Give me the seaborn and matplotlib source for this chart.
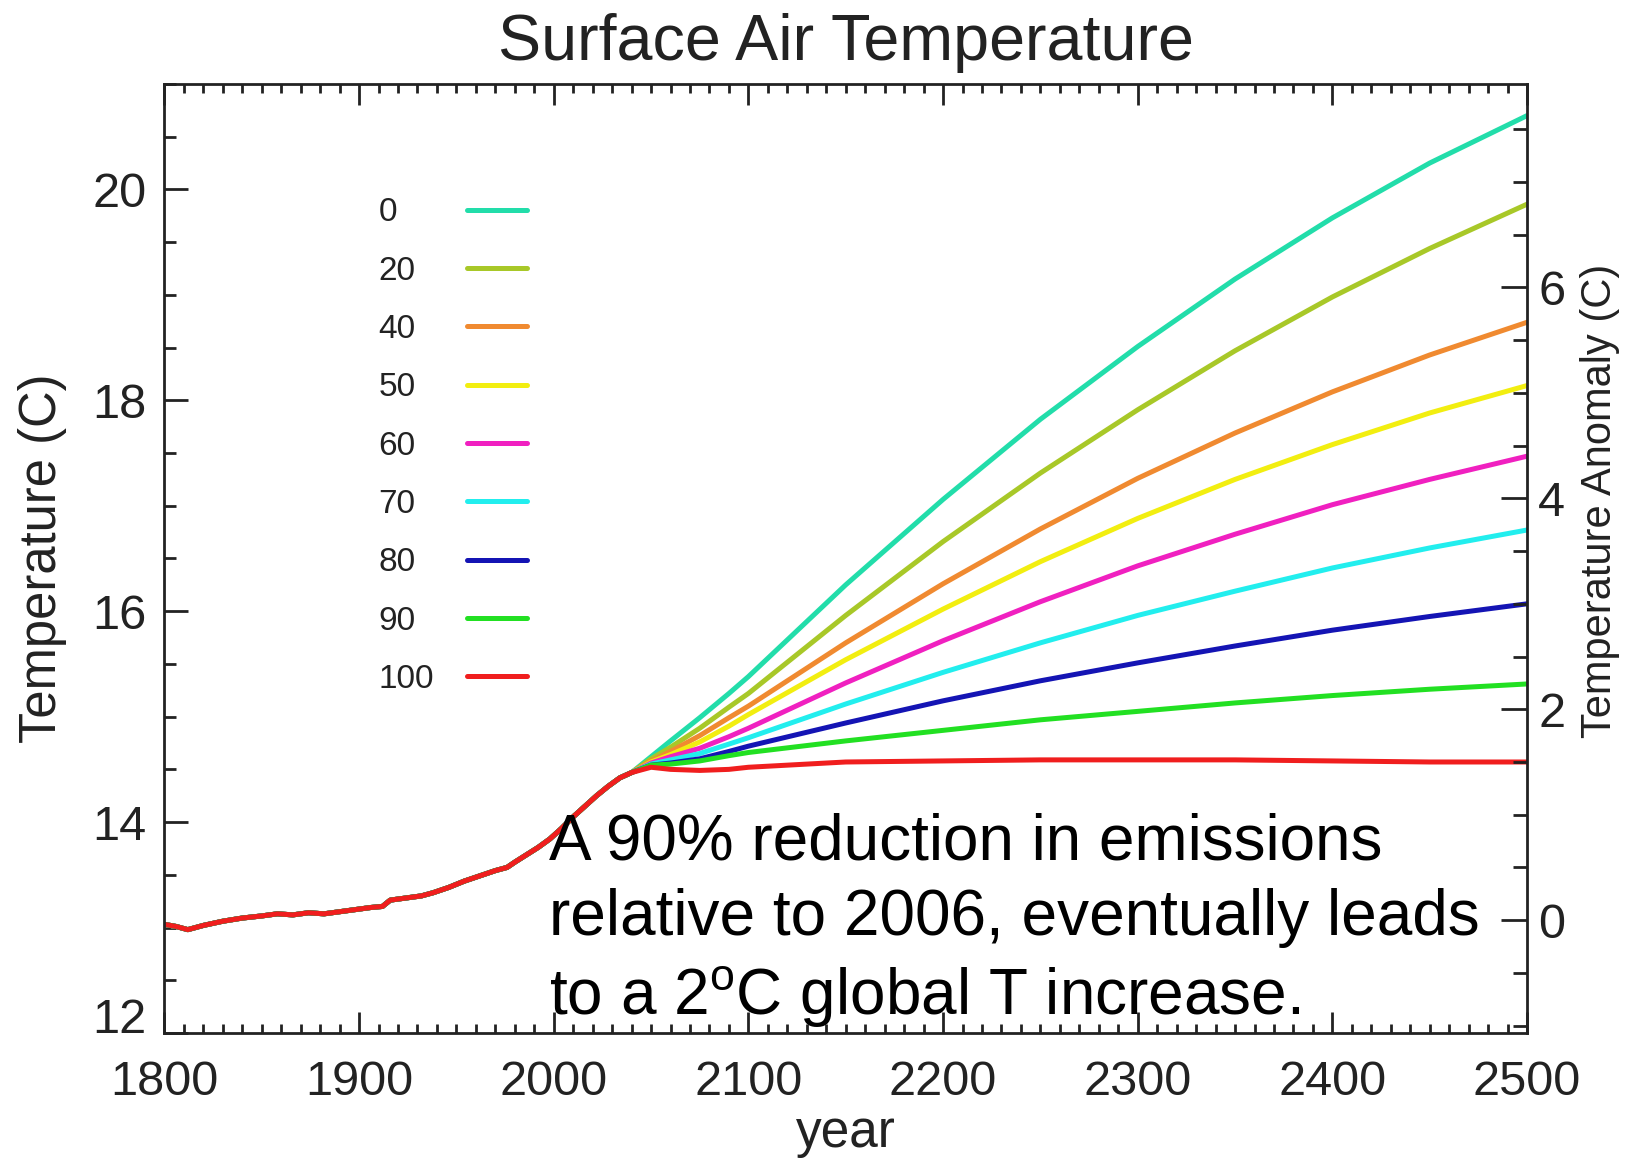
import matplotlib
matplotlib.use("Agg")
import matplotlib.pyplot as plt
from matplotlib.ticker import MultipleLocator, FixedLocator
import pandas as pd
import seaborn as sns

# Emission reduction scenarios (% relative to 2006) and their line colours
reductions = ["0", "20", "40", "50", "60", "70", "80", "90", "100"]
colors = ["#22DDAA", "#A8C828", "#F08A30", "#F2EE10", "#F020C0",
          "#22EEEE", "#1414B4", "#22E022", "#F01E1E"]

# Observed / historical global mean surface air temperature (C)
hist_years = [1800, 1806, 1812, 1820, 1830, 1840, 1850, 1858, 1866, 1874,
              1882, 1890, 1898, 1906, 1912, 1916, 1924, 1932, 1938, 1946,
              1954, 1962, 1970, 1976, 1980, 1986, 1992, 1998, 2004, 2010,
              2016, 2022, 2028, 2034, 2040]
hist_temp = [13.03, 13.01, 12.98, 13.02, 13.06, 13.09, 13.11, 13.13, 13.12, 13.14,
             13.13, 13.15, 13.17, 13.19, 13.20, 13.26, 13.28, 13.30, 13.33, 13.38,
             13.44, 13.49, 13.54, 13.57, 13.62, 13.69, 13.76, 13.84, 13.94, 14.05,
             14.15, 14.25, 14.34, 14.42, 14.47]

# Projected temperature for each reduction scenario
future_years = [2050, 2060, 2075, 2090, 2100, 2150, 2200, 2250, 2300, 2350, 2400, 2450, 2500]
temp_0 = [14.62, 14.77, 14.99, 15.22, 15.38, 16.25, 17.06, 17.82, 18.51, 19.15, 19.73, 20.25, 20.70]
temp_20 = [14.60, 14.71, 14.89, 15.09, 15.22, 15.96, 16.66, 17.31, 17.91, 18.47, 18.98, 19.44, 19.86]
temp_40 = [14.58, 14.67, 14.82, 14.99, 15.10, 15.70, 16.26, 16.78, 17.26, 17.69, 18.08, 18.43, 18.74]
temp_50 = [14.57, 14.64, 14.76, 14.91, 15.02, 15.54, 16.02, 16.47, 16.88, 17.25, 17.58, 17.88, 18.14]
temp_60 = [14.56, 14.62, 14.70, 14.81, 14.89, 15.32, 15.72, 16.09, 16.43, 16.73, 17.01, 17.25, 17.47]
temp_70 = [14.55, 14.59, 14.65, 14.74, 14.80, 15.12, 15.42, 15.70, 15.96, 16.19, 16.41, 16.60, 16.77]
temp_80 = [14.54, 14.56, 14.60, 14.67, 14.72, 14.94, 15.15, 15.34, 15.51, 15.67, 15.82, 15.95, 16.07]
temp_90 = [14.54, 14.55, 14.58, 14.63, 14.66, 14.77, 14.87, 14.97, 15.05, 15.13, 15.20, 15.26, 15.31]
temp_100 = [14.52, 14.50, 14.49, 14.50, 14.52, 14.57, 14.58, 14.59, 14.59, 14.59, 14.58, 14.57, 14.57]

# Offset between absolute temperature and the anomaly scale on the right
anomaly_base = 13.07

scenario_temps = [temp_0, temp_20, temp_40, temp_50, temp_60,
                  temp_70, temp_80, temp_90, temp_100]

frames = []
for label, temps in zip(reductions, scenario_temps):
    frames.append(pd.DataFrame({
        "year": hist_years + future_years,
        "temp": hist_temp + temps,
        "reduction": label,
    }))
df = pd.concat(frames, ignore_index=True)

sns.set_theme(style="white")
plt.rcParams["font.family"] = ["Liberation Sans", "DejaVu Sans"]
plt.rcParams["mathtext.fontset"] = "custom"
plt.rcParams["mathtext.rm"] = "Liberation Sans"
plt.rcParams["mathtext.it"] = "Liberation Sans:italic"
plt.rcParams["mathtext.bf"] = "Liberation Sans:bold"
plt.rcParams["mathtext.sf"] = "Liberation Sans"

ink = "#222222"
fig = plt.figure(figsize=(16.33, 11.60), dpi=100)
ax = fig.add_axes([0.1007, 0.1095, 0.8344, 0.8181])

sns.lineplot(data=df, x="year", y="temp", hue="reduction", hue_order=reductions,
             palette=colors, linewidth=3.6, estimator=None, legend=False, ax=ax)

ax.set_xlim(1800, 2500)
ax.set_ylim(12, 21)
ax.xaxis.set_major_locator(MultipleLocator(100))
ax.xaxis.set_minor_locator(MultipleLocator(10))
ax.yaxis.set_major_locator(FixedLocator([12, 14, 16, 18, 20]))
ax.yaxis.set_minor_locator(MultipleLocator(0.5))

ax.tick_params(axis="x", which="both", direction="in", top=True, bottom=True,
               color=ink, width=2, labelsize=35, labelcolor=ink, pad=19.5)
ax.tick_params(axis="x", which="major", length=15)
ax.tick_params(axis="x", which="minor", length=6.5)
ax.tick_params(axis="y", which="both", direction="in", left=True, right=False,
               color=ink, width=2, labelsize=35, labelcolor=ink, pad=13)
ax.tick_params(axis="y", which="major", length=17)
ax.tick_params(axis="y", which="minor", length=8.5)

for spine in ax.spines.values():
    spine.set_visible(True)
    spine.set_color(ink)
    spine.set_linewidth(2)

ax.set_xlabel("year", fontsize=37, color=ink, labelpad=3)
ax.set_ylabel("Temperature (C)", fontsize=36.5, color=ink, labelpad=18)
ax.set_title("Surface Air Temperature", fontsize=46.5, color=ink, pad=17)

# Anomaly scale on the right-hand axis
ax2 = ax.twinx()
ax2.set_ylim(12 - anomaly_base, 21 - anomaly_base)
ax2.yaxis.set_major_locator(FixedLocator([0, 2, 4, 6]))
ax2.yaxis.set_minor_locator(MultipleLocator(0.5))
ax2.tick_params(axis="y", which="both", direction="in", right=True, left=False,
                color=ink, width=2, labelsize=35, labelcolor=ink, pad=8)
ax2.tick_params(axis="y", which="major", length=19)
ax2.tick_params(axis="y", which="minor", length=10)
for spine in ax2.spines.values():
    spine.set_visible(False)
ax2.set_ylabel("Temperature Anomaly (C)", fontsize=30, color=ink)
ax2.yaxis.set_label_coords(1.0389, 0.5606)
ax2.grid(False)
ax.grid(False)

# Scenario key: labels on the left, line swatches on the right
handles = ax.get_lines()[:len(reductions)]
leg = ax.legend(handles, reductions, loc="upper left", bbox_to_anchor=(0.157, 0.8806),
                frameon=False, markerfirst=False, fontsize=24, handlelength=1.8,
                handletextpad=1.0, labelspacing=0.82, borderpad=0, borderaxespad=0,
                labelcolor=ink)

fig.text(0.3362, 0.1247,
         "A 90% reduction in emissions\n"
         "relative to 2006, eventually leads\n"
         r"to a 2$^{\mathrm{o}}$C global T increase.",
         fontsize=46, color="black", ha="left", va="baseline", linespacing=1.335)

# Left-align the key labels: widen the label-to-swatch gap of the shorter labels
fig.canvas.draw()
renderer = fig.canvas.get_renderer()
widths = [t.get_window_extent(renderer).width for t in leg.get_texts()]
rows = leg._legend_handle_box.get_children()[0].get_children()
for row, w in zip(rows, widths):
    row.sep += (max(widths) - w) * 72.0 / fig.dpi

# The lowest temperature label sits on its tick rather than centred on it
ax.yaxis.get_major_ticks()[0].label1.set_verticalalignment("baseline")

fig.savefig("out.png", dpi=100, facecolor="white")
